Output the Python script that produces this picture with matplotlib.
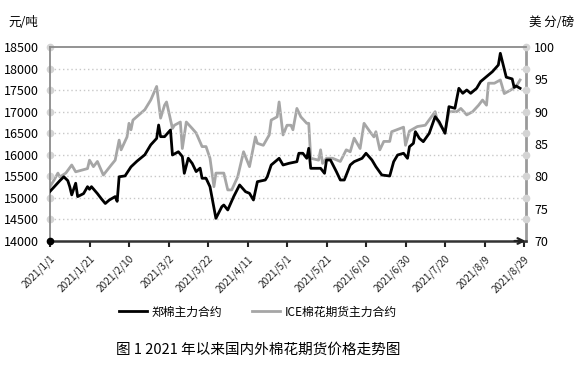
import numpy as np
import pandas as pd
import matplotlib
matplotlib.use("Agg")
import matplotlib.pyplot as plt
import matplotlib.transforms as mtransforms

plt.rcParams['font.family'] = ['Noto Sans CJK SC', 'DejaVu Sans']

# 郑棉主力合约 (元/吨)
zce_dates = ["2021-01-01", "2021-01-03", "2021-01-06", "2021-01-08", "2021-01-10", "2021-01-11",
             "2021-01-12", "2021-01-14", "2021-01-15", "2021-01-18", "2021-01-20", "2021-01-21",
             "2021-01-22", "2021-01-25", "2021-01-27", "2021-01-29", "2021-01-31", "2021-02-03",
             "2021-02-04", "2021-02-05", "2021-02-08", "2021-02-11", "2021-02-14", "2021-02-18",
             "2021-02-21", "2021-02-24", "2021-02-25", "2021-02-26", "2021-02-28", "2021-03-03",
             "2021-03-04", "2021-03-07", "2021-03-09", "2021-03-10", "2021-03-12", "2021-03-14",
             "2021-03-16", "2021-03-18", "2021-03-19", "2021-03-21", "2021-03-23", "2021-03-26",
             "2021-03-29", "2021-03-30", "2021-04-01", "2021-04-04", "2021-04-07", "2021-04-10",
             "2021-04-12", "2021-04-14", "2021-04-16", "2021-04-20", "2021-04-21", "2021-04-23",
             "2021-04-27", "2021-04-29", "2021-05-02", "2021-05-06", "2021-05-07", "2021-05-09",
             "2021-05-11", "2021-05-12", "2021-05-13", "2021-05-18", "2021-05-20", "2021-05-21",
             "2021-05-23", "2021-05-26", "2021-05-28", "2021-05-30", "2021-06-02", "2021-06-04",
             "2021-06-08", "2021-06-10", "2021-06-13", "2021-06-15", "2021-06-18", "2021-06-22",
             "2021-06-24", "2021-06-26", "2021-06-29", "2021-07-01", "2021-07-02", "2021-07-04",
             "2021-07-05", "2021-07-07", "2021-07-09", "2021-07-12", "2021-07-15", "2021-07-17",
             "2021-07-20", "2021-07-22", "2021-07-25", "2021-07-27", "2021-07-29", "2021-07-31",
             "2021-08-02", "2021-08-05", "2021-08-07", "2021-08-11", "2021-08-13", "2021-08-16",
             "2021-08-17", "2021-08-20", "2021-08-23", "2021-08-24", "2021-08-25", "2021-08-27"]
zce_price = [15150, 15250, 15400, 15490, 15400, 15260,
             15070, 15340, 15030, 15100, 15260, 15200,
             15260, 15100, 14980, 14870, 14950, 15030,
             14920, 15490, 15510, 15720, 15850, 16000,
             16230, 16380, 16690, 16420, 16420, 16575,
             15995, 16070, 15960, 15570, 15920, 15800,
             15610, 15690, 15455, 15455, 15260, 14526,
             14796, 14835, 14720, 15030, 15300, 15144,
             15106, 14951, 15376, 15415, 15490, 15763,
             15918, 15763, 15802, 15840, 16035, 16035,
             15918, 16150, 15686, 15686, 15570, 15879,
             15879, 15609, 15415, 15415, 15763, 15840,
             15918, 16035, 15879, 15724, 15531, 15508,
             15840, 15995, 16035, 15918, 16188, 16266,
             16536, 16382, 16304, 16498, 16884, 16768,
             16498, 17116, 17078, 17542, 17426, 17503,
             17426, 17542, 17697, 17851, 17928, 18083,
             18354, 17800, 17760, 17565, 17596, 17542]

# ICE棉花期货主力合约 (美分/磅)
ice_dates = ["2021-01-01", "2021-01-03", "2021-01-05", "2021-01-06", "2021-01-08", "2021-01-09",
             "2021-01-12", "2021-01-14", "2021-01-20", "2021-01-21", "2021-01-23", "2021-01-25",
             "2021-01-28", "2021-02-01", "2021-02-03", "2021-02-05", "2021-02-06", "2021-02-09",
             "2021-02-10", "2021-02-11", "2021-02-12", "2021-02-15", "2021-02-18", "2021-02-21",
             "2021-02-24", "2021-02-26", "2021-02-28", "2021-03-01", "2021-03-04", "2021-03-05",
             "2021-03-08", "2021-03-09", "2021-03-11", "2021-03-14", "2021-03-16", "2021-03-19",
             "2021-03-21", "2021-03-23", "2021-03-25", "2021-03-26", "2021-03-30", "2021-04-01",
             "2021-04-03", "2021-04-06", "2021-04-09", "2021-04-12", "2021-04-15", "2021-04-16",
             "2021-04-19", "2021-04-22", "2021-04-23", "2021-04-26", "2021-04-27", "2021-04-29",
             "2021-05-01", "2021-05-03", "2021-05-04", "2021-05-06", "2021-05-08", "2021-05-11",
             "2021-05-12", "2021-05-13", "2021-05-17", "2021-05-18", "2021-05-19", "2021-05-21",
             "2021-05-24", "2021-05-28", "2021-05-31", "2021-06-02", "2021-06-04", "2021-06-07",
             "2021-06-09", "2021-06-12", "2021-06-14", "2021-06-15", "2021-06-17", "2021-06-19",
             "2021-06-22", "2021-06-23", "2021-06-29", "2021-06-30", "2021-07-02", "2021-07-06",
             "2021-07-10", "2021-07-15", "2021-07-16", "2021-07-18", "2021-07-20", "2021-07-22",
             "2021-07-26", "2021-07-28", "2021-07-31", "2021-08-03", "2021-08-06", "2021-08-08",
             "2021-08-10", "2021-08-11", "2021-08-14", "2021-08-17", "2021-08-19", "2021-08-22",
             "2021-08-25", "2021-08-27"]
ice_price = [78.4, 79.4, 80.5, 79.9, 80.3, 80.5,
             81.75, 80.7, 81.2, 82.5, 81.5, 82.3,
             80.2, 81.75, 82.5, 85.6, 84.1, 86.1,
             88.2, 87.2, 88.7, 89.5, 90.3, 91.8,
             93.9, 89.0, 91.0, 91.5, 87.4, 87.9,
             88.4, 84.3, 88.4, 87.4, 86.7, 84.6,
             84.6, 82.8, 78.4, 80.5, 80.5, 77.9,
             77.9, 79.9, 83.8, 81.5, 86.1, 85.1,
             84.8, 86.4, 88.7, 89.2, 91.5, 86.4,
             87.9, 87.9, 87.2, 90.5, 89.2, 88.2,
             88.2, 82.8, 82.5, 84.1, 82.0, 82.8,
             82.8, 82.3, 84.1, 83.8, 85.9, 84.3,
             88.2, 86.9, 86.1, 86.9, 84.1, 85.4,
             85.4, 86.9, 87.6, 84.8, 87.0, 87.7,
             87.9, 90.0, 88.7, 87.7, 86.9, 90.0,
             90.0, 90.5, 89.5, 90.0, 91.0, 91.8,
             91.0, 94.4, 94.4, 94.9, 92.8, 93.3,
             93.9, 94.9]

x_ticks = pd.date_range("2021-01-01", "2021-08-29", freq="20D")
left_ticks = np.arange(14000, 18501, 500)
right_ticks = np.arange(70, 101, 5)

zce = pd.Series(zce_price, index=pd.to_datetime(zce_dates))
ice = pd.Series(ice_price, index=pd.to_datetime(ice_dates))

fig = plt.figure(figsize=(5.84, 3.65), dpi=100)
ax = fig.add_axes([50 / 584, 1 - 241 / 365, 476 / 584, 194 / 365])
ax2 = ax.twinx()
ax.set_zorder(ax2.get_zorder() + 1)
ax.patch.set_visible(False)

l1, = ax.plot(zce.index, zce.values, color='black', lw=2.0, label='郑棉主力合约', zorder=5)
l2, = ax2.plot(ice.index, ice.values, color='#a6a6a6', lw=2.0, label='ICE棉花期货主力合约')

ax.set_xlim(pd.Timestamp("2021-01-01"), pd.Timestamp("2021-08-30"))
ax.set_ylim(14000, 18500)
ax2.set_ylim(70, 100)
ax.set_yticks(left_ticks)
ax2.set_yticks(right_ticks)
ax.set_xticks(x_ticks)
ax.set_xticklabels([f"{d.year}/{d.month}/{d.day}" for d in x_ticks],
                   rotation=45, ha='right', rotation_mode='anchor', fontsize=7.3, color='#222222')

for y in left_ticks[1:-1]:
    ax.axhline(y, color='#c8c8c8', lw=1.0, ls=(0, (1, 2)), zorder=0)

# grey dots at the gridline ends (Excel style)
tr_l = mtransforms.blended_transform_factory(ax.transAxes, ax.transData)
ax.plot(np.zeros(len(left_ticks) - 1), left_ticks[1:], 'o', ms=4.5, color='#d4d4d4',
        transform=tr_l, clip_on=False, zorder=1)
ax.plot(np.ones(len(left_ticks) - 1), left_ticks[1:], 'o', ms=4.5, color='#d4d4d4',
        transform=tr_l, clip_on=False, zorder=1)
ax.plot([0], [14000], 'o', ms=4.5, color='black', transform=tr_l, clip_on=False, zorder=6)

for s in ['left', 'top']:
    ax.spines[s].set_color('#8a8a8a')
    ax.spines[s].set_linewidth(1.3)
ax.spines['right'].set_visible(False)
ax.spines['bottom'].set_color('#333333')
ax.spines['bottom'].set_linewidth(1.8)
for s in ['left', 'top', 'bottom']:
    ax2.spines[s].set_visible(False)
ax2.spines['right'].set_color('#9a9a9a')
ax2.spines['right'].set_linewidth(2.0)

ax.tick_params(axis='y', length=0, pad=8, labelsize=9)
ax.tick_params(axis='x', length=4, width=1.5, color='#222222', direction='out', pad=5)
ax2.tick_params(axis='y', length=0, pad=6, labelsize=9)

# arrow at the end of the date axis
ax.annotate('', xy=(1.005, 0), xytext=(0.97, 0), xycoords='axes fraction',
            arrowprops=dict(arrowstyle='->', color='#222222', lw=1.6), annotation_clip=False)

fig.text(8 / 584, 1 - 23 / 365, '元/吨', fontsize=9, va='center', ha='left')
fig.text(529 / 584, 1 - 23 / 365, '美 分/磅', fontsize=9, va='center', ha='left')

fig.legend([l1, l2], ['郑棉主力合约', 'ICE棉花期货主力合约'], loc='center',
           bbox_to_anchor=(258 / 584, 1 - 312 / 365), ncol=2, frameon=False,
           fontsize=8.5, handlelength=2.4, handletextpad=0.4, columnspacing=2.5)

fig.text(258 / 584, 1 - 350 / 365, '图 1 2021 年以来国内外棉花期货价格走势图',
         fontsize=10.5, ha='center', va='center')

fig.savefig('out.png', dpi=100)
